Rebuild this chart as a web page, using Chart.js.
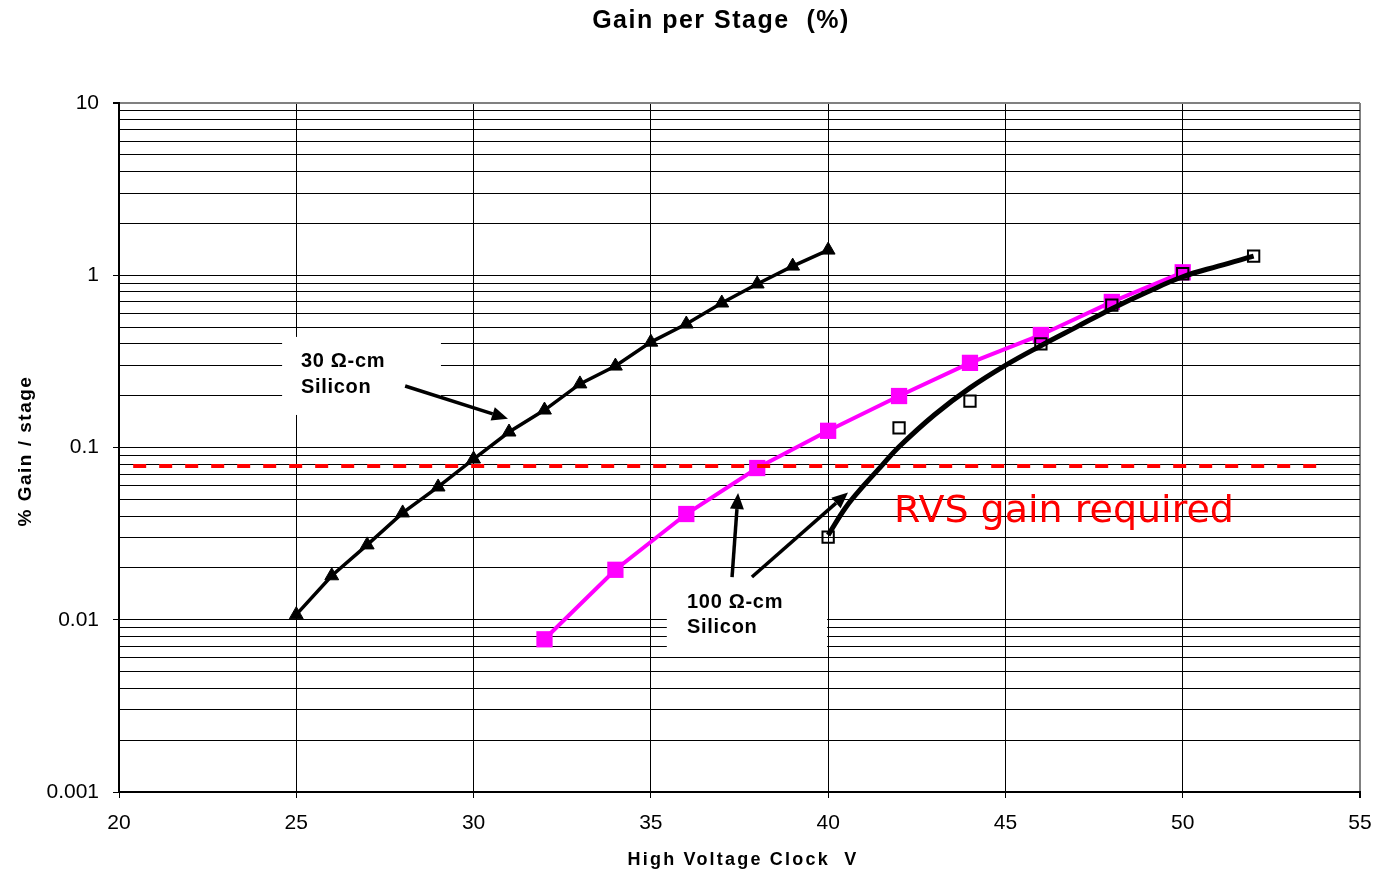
<!DOCTYPE html>
<html>
<head>
<meta charset="utf-8">
<script src="https://cdn.jsdelivr.net/npm/chart.js@4/dist/chart.umd.min.js"></script>
<style>
  body { margin: 0; background: #fff; }
  #wrap { width: 1380px; height: 874px; }
</style>
</head>
<body>
<div id="wrap"><canvas id="gainChart"></canvas></div>
<script>
// 30 ohm-cm silicon (triangles)
const voltage30 = [25, 26, 27, 28, 29, 30, 31, 32, 33, 34, 35, 36, 37, 38, 39, 40];
const gain30 = [0.0107, 0.018, 0.0272, 0.0417, 0.059, 0.0857, 0.123, 0.165, 0.234, 0.297, 0.409, 0.521, 0.69, 0.89, 1.13, 1.40];

// 100 ohm-cm silicon (magenta squares)
const voltage100 = [32, 34, 36, 38, 40, 42, 44, 46, 48, 50];
const gain100 = [0.0077, 0.0195, 0.0411, 0.076, 0.125, 0.199, 0.31, 0.45, 0.70, 1.04];

// 100 ohm-cm, second set (open squares)
const voltageOpen = [40, 42, 44, 46, 48, 50, 52];
const gainOpen = [0.0302, 0.130, 0.186, 0.40, 0.67, 1.02, 1.29];

// fitted curve through the open squares
const voltageFit = [40, 40.5, 41, 41.5, 42, 43, 44, 45, 46, 47, 48, 49, 50, 51, 52];
const gainFit = [0.031, 0.045, 0.060, 0.078, 0.101, 0.155, 0.222, 0.30, 0.39, 0.50, 0.64, 0.80, 0.98, 1.13, 1.29];

// RVS gain required level
const rvsVoltage = [20.4, 54.1];
const rvsGain = [0.078, 0.078];

const xTickValues = [20, 25, 30, 35, 40, 45, 50, 55];
const yTickLabels = ['0.001', '0.01', '0.1', '1', '10'];
const yDecades = [0.001, 0.01, 0.1, 1, 10];

const toPoints = (xs, ys) => xs.map((x, i) => ({ x: x, y: ys[i] }));

// label boxes and arrows, in data units
const labelBoxes = [
  { x0: 24.6, x1: 29.08, y0: 0.4385, y1: 0.1545 },
  { x0: 35.45, x1: 39.97, y0: 0.0182, y1: 0.0065 }
];
const labelTexts = [
  { x: 25.13, lines: ['30 \u03A9-cm', 'Silicon'], y: 0.293 },
  { x: 36.02, lines: ['100 \u03A9-cm', 'Silicon'], y: 0.01175 }
];
const arrows = [
  { from: [28.07, 0.2275], to: [30.97, 0.147] },
  { from: [37.29, 0.0177], to: [37.46, 0.0544] },
  { from: [37.85, 0.0177], to: [40.56, 0.0548] }
];

function drawArrow(ctx, x1, y1, x2, y2) {
  const ang = Math.atan2(y2 - y1, x2 - x1);
  const headLen = 16, headW = 7;
  const bx = x2 - headLen * Math.cos(ang), by = y2 - headLen * Math.sin(ang);
  ctx.beginPath();
  ctx.moveTo(x1, y1);
  ctx.lineTo(bx, by);
  ctx.stroke();
  ctx.beginPath();
  ctx.moveTo(x2, y2);
  ctx.lineTo(bx + headW * Math.sin(ang), by - headW * Math.cos(ang));
  ctx.lineTo(bx - headW * Math.sin(ang), by + headW * Math.cos(ang));
  ctx.closePath();
  ctx.fill();
}

const notesPlugin = {
  id: 'notes',
  beforeDatasetsDraw(chart) {
    const { ctx, scales: { x, y } } = chart;
    ctx.save();
    ctx.fillStyle = '#fff';
    labelBoxes.forEach(b => {
      const l = x.getPixelForValue(b.x0), r = x.getPixelForValue(b.x1);
      const t = y.getPixelForValue(b.y0), bt = y.getPixelForValue(b.y1);
      ctx.fillRect(l, t, r - l, bt - t);
    });
    ctx.restore();
  },
  afterDatasetsDraw(chart) {
    const { ctx, scales: { x, y } } = chart;
    ctx.save();
    // label texts
    ctx.fillStyle = '#000';
    ctx.font = 'bold 20px "Liberation Sans", Arial, sans-serif';
    ctx.letterSpacing = '0.7px';
    ctx.textBaseline = 'alphabetic';
    labelTexts.forEach(t => {
      const px = x.getPixelForValue(t.x);
      const py = y.getPixelForValue(t.y);
      t.lines.forEach((line, i) => ctx.fillText(line, px, py + i * 25.5));
    });
    // arrows
    ctx.fillStyle = '#000';
    ctx.strokeStyle = '#000';
    ctx.lineWidth = 3.5;
    arrows.forEach(a => {
      drawArrow(ctx, x.getPixelForValue(a.from[0]), y.getPixelForValue(a.from[1]),
        x.getPixelForValue(a.to[0]), y.getPixelForValue(a.to[1]));
    });
    // RVS label
    ctx.letterSpacing = '0px';
    ctx.fillStyle = '#FF0000';
    ctx.font = '38px "DejaVu Sans", Verdana, sans-serif';
    ctx.fillText('RVS gain required', x.getPixelForValue(41.86), y.getPixelForValue(0.0369));
    ctx.restore();
  },
  afterDraw(chart) {
    const { ctx } = chart;
    ctx.save();
    ctx.fillStyle = '#000';
    ctx.textBaseline = 'alphabetic';
    ctx.textAlign = 'left';
    // chart title
    ctx.font = 'bold 25px "Liberation Sans", Arial, sans-serif';
    ctx.letterSpacing = '1.5px';
    let t = 'Gain per Stage  (%)';
    let w = ctx.measureText(t).width;
    ctx.fillText(t, 721 - w / 2, 28);
    // x axis title
    ctx.font = 'bold 18px "Liberation Sans", Arial, sans-serif';
    ctx.letterSpacing = '2.2px';
    t = 'High Voltage Clock  V';
    w = ctx.measureText(t).width;
    ctx.fillText(t, 743 - w / 2, 865);
    // y axis title
    ctx.font = 'bold 19px "Liberation Sans", Arial, sans-serif';
    ctx.letterSpacing = '1.5px';
    t = '% Gain / stage';
    w = ctx.measureText(t).width;
    ctx.translate(31, 451);
    ctx.rotate(-Math.PI / 2);
    ctx.fillText(t, -w / 2, 0);
    ctx.restore();
  }
};

const ctx = document.getElementById('gainChart').getContext('2d');
new Chart(ctx, {
  type: 'scatter',
  data: {
    datasets: [
      {
        label: 'RVS gain required',
        data: toPoints(rvsVoltage, rvsGain),
        showLine: true,
        borderColor: '#FF0000',
        borderWidth: 4,
        borderDash: [13, 13],
        pointRadius: 0,
        order: 0
      },
      {
        label: '30 ohm-cm',
        data: toPoints(voltage30, gain30),
        showLine: true,
        borderColor: '#000',
        backgroundColor: '#000',
        borderWidth: 3.5,
        pointStyle: 'triangle',
        pointRadius: 8,
        pointBorderWidth: 1,
        order: 1
      },
      {
        label: '100 ohm-cm open',
        data: toPoints(voltageOpen, gainOpen),
        showLine: false,
        borderColor: '#000',
        backgroundColor: 'rgba(0,0,0,0)',
        pointStyle: 'rect',
        pointRadius: 8,
        pointBorderWidth: 2,
        order: 2
      },
      {
        label: 'fit',
        data: toPoints(voltageFit, gainFit),
        showLine: true,
        borderColor: '#000',
        borderWidth: 5,
        tension: 0.4,
        pointRadius: 0,
        order: 3
      },
      {
        label: '100 ohm-cm',
        data: toPoints(voltage100, gain100),
        showLine: true,
        borderColor: '#FF00FF',
        backgroundColor: '#FF00FF',
        borderWidth: 4,
        pointStyle: 'rect',
        pointRadius: 11.5,
        pointBorderWidth: 0,
        order: 4
      }
    ]
  },
  options: {
    responsive: true,
    maintainAspectRatio: false,
    animation: false,
    layout: { padding: { top: 103, right: 20, left: 0, bottom: 0 } },
    plugins: {
      legend: { display: false },
      title: { display: false },
      tooltip: { enabled: false }
    },
    scales: {
      x: {
        type: 'linear',
        min: 20,
        max: 55,
        afterBuildTicks: s => { s.ticks = xTickValues.map(v => ({ value: v })); },
        afterFit: s => { s.height = 82; s.paddingLeft = 0; s.paddingRight = 0; },
        ticks: {
          color: '#000',
          padding: 13,
          font: { family: '"Liberation Sans", Arial, sans-serif', size: 21 }
        },
        grid: {
          color: c => (c.tick && c.tick.value === 55 ? '#808080' : '#000'),
          lineWidth: c => (c.tick && c.tick.value === 55 ? 2 : 1),
          tickColor: '#000',
          tickLength: 6
        },
        border: { color: '#000', width: 2 }
      },
      y: {
        type: 'logarithmic',
        min: 0.001,
        max: 10,
        afterBuildTicks: s => {
          const list = [];
          yDecades.forEach((d, i) => {
            const steps = i === yDecades.length - 1 ? [1] : [1, 2, 3, 4, 5, 6, 7, 8, 9];
            steps.forEach(m => list.push({ value: d * m, major: m === 1 }));
          });
          s.ticks = list;
        },
        afterFit: s => { s.width = 119; s.paddingTop = 0; s.paddingBottom = 0; },
        ticks: {
          autoSkip: false,
          color: '#000',
          padding: 14,
          font: { family: '"Liberation Sans", Arial, sans-serif', size: 21 },
          callback: function (value, index, ticks) {
            if (!ticks[index].major) return '';
            return yTickLabels[yDecades.findIndex(d => Math.abs(d - value) < d * 1e-6)];
          }
        },
        grid: {
          color: c => (c.tick && c.tick.value === 10 ? '#808080' : '#000'),
          lineWidth: c => (c.tick && c.tick.value === 10 ? 2 : 1),
          tickColor: c => (c.tick && c.tick.major ? '#000' : 'rgba(0,0,0,0)'),
          tickLength: 6
        },
        border: { color: '#000', width: 2 }
      }
    }
  },
  plugins: [notesPlugin]
});
</script>
</body>
</html>
